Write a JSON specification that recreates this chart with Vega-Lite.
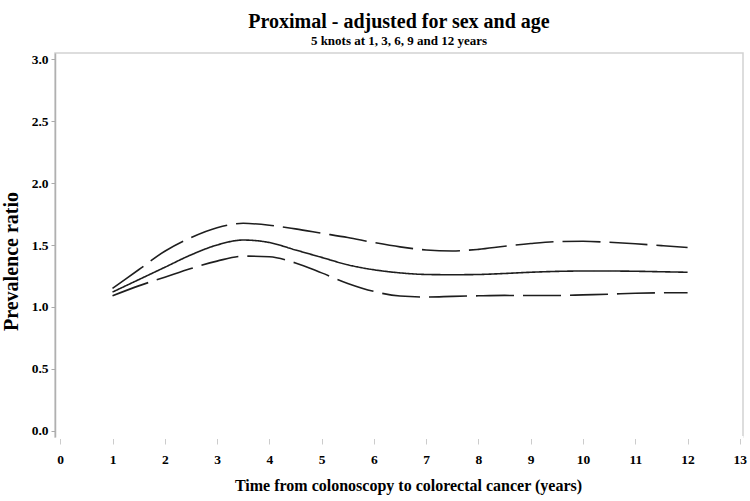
{
  "$schema": "https://vega.github.io/schema/vega-lite/v6.json",
  "width": 688,
  "height": 384,
  "autosize": "none",
  "padding": {"left": 55, "top": 53, "right": 7, "bottom": 64},
  "background": "white",
  "config": {
    "font": "Liberation Serif",
    "view": {"stroke": "#d2d2d2", "strokeWidth": 1.5},
    "axis": {"grid": false}
  },
  "title": {
    "text": "Proximal - adjusted for sex and age",
    "subtitle": "5 knots at 1, 3, 6, 9 and 12 years",
    "font": "Liberation Serif",
    "fontSize": 20,
    "fontWeight": "bold",
    "color": "#000000",
    "subtitleFont": "Liberation Serif",
    "subtitleFontSize": 13,
    "subtitleFontWeight": "bold",
    "subtitleColor": "#000000",
    "subtitlePadding": 3,
    "anchor": "middle",
    "offset": 4
  },
  "data": {
    "values": [
      {"t": 1.0, "s": "PR", "v": 1.12}, {"t": 1.5, "s": "PR", "v": 1.22}, {"t": 2.0, "s": "PR", "v": 1.32},
      {"t": 2.5, "s": "PR", "v": 1.42}, {"t": 3.0, "s": "PR", "v": 1.50}, {"t": 3.5, "s": "PR", "v": 1.54},
      {"t": 4.0, "s": "PR", "v": 1.52}, {"t": 4.5, "s": "PR", "v": 1.46}, {"t": 5.0, "s": "PR", "v": 1.40},
      {"t": 5.5, "s": "PR", "v": 1.34}, {"t": 6.0, "s": "PR", "v": 1.30}, {"t": 6.5, "s": "PR", "v": 1.275},
      {"t": 7.0, "s": "PR", "v": 1.262}, {"t": 7.5, "s": "PR", "v": 1.26}, {"t": 8.0, "s": "PR", "v": 1.262},
      {"t": 8.5, "s": "PR", "v": 1.27}, {"t": 9.0, "s": "PR", "v": 1.28}, {"t": 9.5, "s": "PR", "v": 1.287},
      {"t": 10.0, "s": "PR", "v": 1.29}, {"t": 10.5, "s": "PR", "v": 1.29}, {"t": 11.0, "s": "PR", "v": 1.288},
      {"t": 11.5, "s": "PR", "v": 1.284}, {"t": 12.0, "s": "PR", "v": 1.28},
      {"t": 1.0, "s": "Upper", "v": 1.15}, {"t": 1.5, "s": "Upper", "v": 1.30}, {"t": 2.0, "s": "Upper", "v": 1.45},
      {"t": 2.5, "s": "Upper", "v": 1.56}, {"t": 3.0, "s": "Upper", "v": 1.64}, {"t": 3.5, "s": "Upper", "v": 1.675},
      {"t": 4.0, "s": "Upper", "v": 1.66}, {"t": 4.5, "s": "Upper", "v": 1.63}, {"t": 5.0, "s": "Upper", "v": 1.595},
      {"t": 5.5, "s": "Upper", "v": 1.56}, {"t": 6.0, "s": "Upper", "v": 1.52}, {"t": 6.5, "s": "Upper", "v": 1.485},
      {"t": 7.0, "s": "Upper", "v": 1.46}, {"t": 7.5, "s": "Upper", "v": 1.452}, {"t": 8.0, "s": "Upper", "v": 1.465},
      {"t": 8.5, "s": "Upper", "v": 1.49}, {"t": 9.0, "s": "Upper", "v": 1.512}, {"t": 9.5, "s": "Upper", "v": 1.527},
      {"t": 10.0, "s": "Upper", "v": 1.53}, {"t": 10.5, "s": "Upper", "v": 1.522}, {"t": 11.0, "s": "Upper", "v": 1.51},
      {"t": 11.5, "s": "Upper", "v": 1.495}, {"t": 12.0, "s": "Upper", "v": 1.48},
      {"t": 1.0, "s": "Lower", "v": 1.09}, {"t": 1.5, "s": "Lower", "v": 1.17}, {"t": 2.0, "s": "Lower", "v": 1.24},
      {"t": 2.5, "s": "Lower", "v": 1.31}, {"t": 3.0, "s": "Lower", "v": 1.37}, {"t": 3.5, "s": "Lower", "v": 1.41},
      {"t": 4.0, "s": "Lower", "v": 1.405}, {"t": 4.5, "s": "Lower", "v": 1.355}, {"t": 5.0, "s": "Lower", "v": 1.275},
      {"t": 5.5, "s": "Lower", "v": 1.19}, {"t": 6.0, "s": "Lower", "v": 1.125}, {"t": 6.5, "s": "Lower", "v": 1.088},
      {"t": 7.0, "s": "Lower", "v": 1.08}, {"t": 7.5, "s": "Lower", "v": 1.085}, {"t": 8.0, "s": "Lower", "v": 1.09},
      {"t": 8.5, "s": "Lower", "v": 1.093}, {"t": 9.0, "s": "Lower", "v": 1.092}, {"t": 9.5, "s": "Lower", "v": 1.092},
      {"t": 10.0, "s": "Lower", "v": 1.097}, {"t": 10.5, "s": "Lower", "v": 1.103}, {"t": 11.0, "s": "Lower", "v": 1.11},
      {"t": 11.5, "s": "Lower", "v": 1.114}, {"t": 12.0, "s": "Lower", "v": 1.115}
    ]
  },
  "mark": {"type": "line", "interpolate": "monotone", "color": "#1e1e1e", "strokeWidth": 1.6},
  "encoding": {
    "x": {
      "field": "t",
      "type": "quantitative",
      "scale": {"domain": [-0.1, 13.06], "nice": false, "zero": false},
      "axis": {
        "values": [0, 1, 2, 3, 4, 5, 6, 7, 8, 9, 10, 11, 12, 13],
        "format": "d",
        "title": "Time from colonoscopy to colorectal cancer (years)",
        "titleFont": "Liberation Serif",
        "titleFontSize": 16,
        "titleFontWeight": "bold",
        "titleColor": "#000000",
        "titlePadding": 12,
        "titleX": 353,
        "labelFont": "Liberation Serif",
        "labelFontSize": 13.5,
        "labelFontWeight": "bold",
        "labelColor": "#000000",
        "labelPadding": 8,
        "labelFlush": false,
        "tickColor": "#cccccc",
        "tickSize": 7,
        "domainColor": "#ffffff",
        "domainWidth": 3
      }
    },
    "y": {
      "field": "v",
      "type": "quantitative",
      "scale": {"domain": [-0.05, 3.05], "nice": false, "zero": false},
      "axis": {
        "values": [0, 0.5, 1, 1.5, 2, 2.5, 3],
        "format": ".1f",
        "title": "Prevalence ratio",
        "titleFont": "Liberation Serif",
        "titleFontSize": 20,
        "titleFontWeight": "bold",
        "titleColor": "#000000",
        "titleAngle": -90,
        "titleAlign": "center",
        "titleBaseline": "middle",
        "titleX": -44,
        "titleY": 208,
        "labelFont": "Liberation Serif",
        "labelFontSize": 13.5,
        "labelFontWeight": "bold",
        "labelColor": "#000000",
        "labelPadding": 3,
        "labelFlush": false,
        "tickColor": "#aaaaaa",
        "tickSize": 4,
        "domainColor": "#b0b0b0",
        "domainWidth": 1.5
      }
    },
    "detail": {"field": "s", "type": "nominal"},
    "strokeDash": {
      "field": "s",
      "type": "nominal",
      "scale": {"domain": ["PR", "Upper", "Lower"], "range": [[1, 0], [38, 9], [38, 9]]},
      "legend": null
    }
  }
}
